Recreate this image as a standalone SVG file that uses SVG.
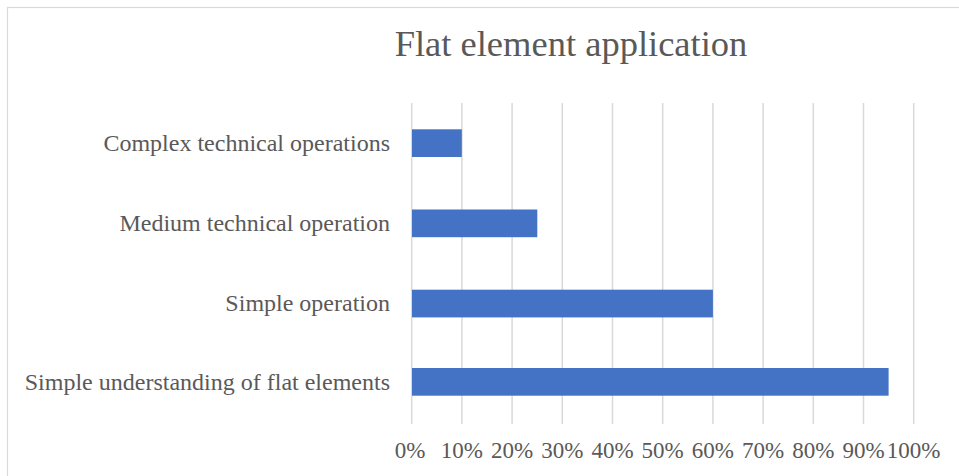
<svg xmlns="http://www.w3.org/2000/svg" width="959" height="476" viewBox="0 0 959 476">
<style>
.t{font-family:"Liberation Serif","Times New Roman",serif;fill:#595959}
.cat{font-size:24px;text-anchor:end}
.ax{font-size:23px;text-anchor:middle}
.grid line{stroke:#D9D9D9;stroke-width:1.5}
.bar{fill:#4472C4}
</style>
<rect x="0" y="0" width="959" height="476" fill="#FFFFFF"/>
<rect id="frame" x="7.5" y="7.5" width="1000" height="520" fill="#FFFFFF" stroke="#D9D9D9" stroke-width="1.2"/>
<text id="title" class="t" x="571" y="56" font-size="36.5" text-anchor="middle">Flat element application</text>
<g class="grid" id="gridlines">
<line x1="411.7" y1="103" x2="411.7" y2="424"/>
<line x1="461.9" y1="103" x2="461.9" y2="424"/>
<line x1="512.1" y1="103" x2="512.1" y2="424"/>
<line x1="562.3" y1="103" x2="562.3" y2="424"/>
<line x1="612.5" y1="103" x2="612.5" y2="424"/>
<line x1="662.7" y1="103" x2="662.7" y2="424"/>
<line x1="712.9" y1="103" x2="712.9" y2="424"/>
<line x1="763.1" y1="103" x2="763.1" y2="424"/>
<line x1="813.3" y1="103" x2="813.3" y2="424"/>
<line x1="863.5" y1="103" x2="863.5" y2="424"/>
<line x1="913.7" y1="103" x2="913.7" y2="424"/>
</g>
<g id="bar-complex"><rect class="bar" x="412" y="129.3" width="49.8" height="27.7"/><text class="t cat" x="390" y="151">Complex technical operations</text></g>
<g id="bar-medium"><rect class="bar" x="412" y="209.5" width="125.3" height="27.7"/><text class="t cat" x="390" y="231.2">Medium technical operation</text></g>
<g id="bar-simple-op"><rect class="bar" x="412" y="289.7" width="300.9" height="27.7"/><text class="t cat" x="390" y="311.4">Simple operation</text></g>
<g id="bar-simple-und"><rect class="bar" x="412" y="368" width="476.6" height="27.7"/><text class="t cat" x="390" y="390">Simple understanding of flat elements</text></g>
<g id="axis-labels" class="t ax">
<text x="410" y="458">0%</text>
<text x="461.9" y="458">10%</text>
<text x="512.1" y="458">20%</text>
<text x="562.3" y="458">30%</text>
<text x="612.5" y="458">40%</text>
<text x="662.7" y="458">50%</text>
<text x="712.9" y="458">60%</text>
<text x="763.1" y="458">70%</text>
<text x="813.3" y="458">80%</text>
<text x="863.5" y="458">90%</text>
<text x="913.7" y="458">100%</text>
</g>
</svg>
